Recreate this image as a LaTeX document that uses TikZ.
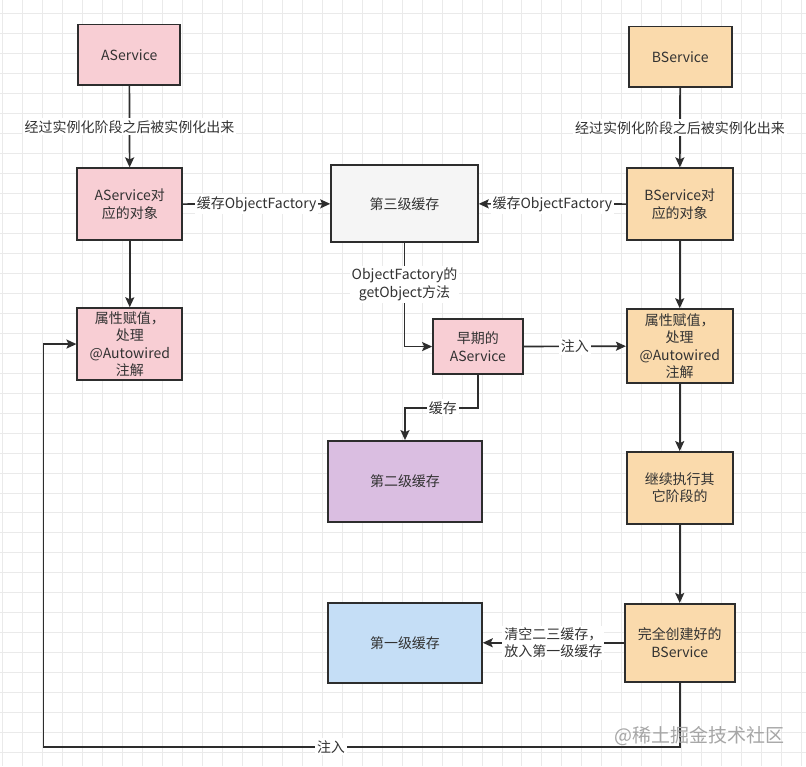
\documentclass[tikz,border=0pt]{standalone}
\usepackage{fontspec}
\setmainfont{Noto Sans CJK SC}
\usetikzlibrary{arrows.meta}
\definecolor{pinkf}{RGB}{248,206,212}
\definecolor{orangef}{RGB}{250,218,172}
\definecolor{grayf}{RGB}{245,245,245}
\definecolor{purplef}{RGB}{218,190,225}
\definecolor{bluef}{RGB}{197,222,246}
\definecolor{linec}{RGB}{45,45,45}
\definecolor{textc}{RGB}{50,50,50}
\definecolor{gridc}{RGB}{234,234,234}
\begin{document}
\begin{tikzpicture}[x=1pt,y=-1pt,
  font=\fontsize{14}{17.5}\selectfont,
  box/.style={draw=linec, line width=1.7pt, align=center, text=textc, inner sep=2pt},
  pinkbox/.style={box, fill=pinkf},
  orangebox/.style={box, fill=orangef},
  arr/.style={draw=linec, line width=1.7pt, -{Stealth[length=10pt,width=9pt,inset=2pt]}},
  lbl/.style={fill=white, text=textc, align=center, inner sep=2pt},
  gridline/.style={draw=gridc, line width=0.8pt}]
\fill[white] (0,0) rectangle (806,766);
\foreach \x in {2,22,...,802} \draw[gridline] (\x,0) -- (\x,766);
\foreach \y in {13,33,...,753} \draw[gridline] (0,\y) -- (806,\y);

% left column
\node[pinkbox, minimum width=102, minimum height=61] (as) at (129,54.5) {AService};
\node[pinkbox, minimum width=105, minimum height=72] (aobj) at (129.5,204) {AService对\\应的对象};
\node[pinkbox, minimum width=105, minimum height=72] (pa) at (129.5,344) {属性赋值，\\处理\\@Autowired\\注解};

% middle column
\node[box, fill=grayf, minimum width=147, minimum height=77] (l3) at (404.5,203.5) {第三级缓存};
\node[pinkbox, minimum width=90, minimum height=55] (early) at (478,346.5) {早期的\\AService};
\node[box, fill=purplef, minimum width=154, minimum height=81] (l2) at (405,481.5) {第二级缓存};
\node[box, fill=bluef, minimum width=154, minimum height=80] (l1) at (405,643) {第一级缓存};

% right column
\node[orangebox, minimum width=103, minimum height=61] (bs) at (680.5,56.5) {BService};
\node[orangebox, minimum width=106, minimum height=72] (bobj) at (680,204) {BService对\\应的对象};
\node[orangebox, minimum width=106, minimum height=74] (pb) at (680,346) {属性赋值，\\处理\\@Autowired\\注解};
\node[orangebox, minimum width=106, minimum height=72] (cont) at (680,488) {继续执行其\\它阶段的};
\node[orangebox, minimum width=110, minimum height=78] (full) at (680,643) {完全创建好的\\BService};

\coordinate (bl) at (43,747);

% connectors
\draw[arr] (as) -- node[lbl]{经过实例化阶段之后被实例化出来} (aobj);
\draw[arr] (aobj) -- (pa);
\draw[arr] (bs) -- node[lbl]{经过实例化阶段之后被实例化出来} (bobj);
\draw[arr] (aobj) -- node[lbl]{缓存ObjectFactory} (l3);
\draw[arr] (bobj) -- node[lbl]{缓存ObjectFactory} (l3);
\draw[arr] (l3.south) |- node[lbl, pos=0.2]{ObjectFactory的\\getObject方法} (early.west);
\draw[arr] (early) -- node[lbl]{注入} (pb);
\draw[arr] (early.south) -- ++(0,33) -| node[lbl, pos=0.24]{缓存} (l2.north);
\draw[arr] (bobj) -- (pb);
\draw[arr] (pb) -- (cont);
\draw[arr] (cont) -- (full);
\draw[arr] (full) -- node[lbl]{清空二三缓存，\\放入第一级缓存} (l1);
\draw[arr] (full.south) |- node[lbl, pos=0.774]{注入} (bl) |- (pa.west);

% watermark
\node[text=gray!70, font=\fontsize{19}{22}\selectfont] (wm) at (700,736) {@稀土掘金技术社区};
\end{tikzpicture}
\end{document}
